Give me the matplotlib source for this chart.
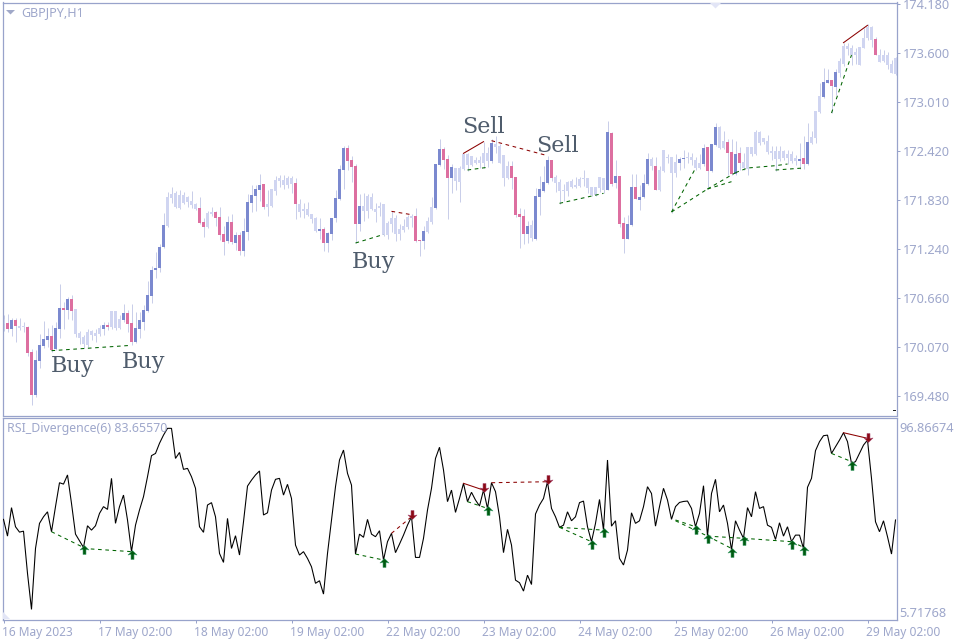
import numpy as np
import matplotlib
matplotlib.use("Agg")
import matplotlib.pyplot as plt
from matplotlib.path import Path
from matplotlib.patches import Polygon
from matplotlib.transforms import ScaledTranslation

symbol = "GBPJPY,H1"
indicator = "RSI_Divergence(6) 83.65570"

highs = [170.454,170.466,170.418,170.414,170.418,170.374,170.322,170.046,170.034,170.226,170.382,170.298,170.334,170.370,170.826,170.610,170.670,170.694,170.526,170.262,170.214,170.286,170.274,170.286,170.334,170.370,170.370,170.502,170.502,170.454,170.586,170.514,170.586,170.490,170.490,170.574,170.862,171.042,171.210,171.306,171.678,171.930,171.990,171.942,171.954,171.930,171.882,171.942,171.798,171.870,171.618,171.702,171.750,171.702,171.750,171.522,
 171.642,171.666,171.450,171.450,171.618,171.906,172.014,172.014,172.146,172.026,171.954,171.966,172.122,172.134,172.134,172.122,172.122,172.098,171.846,171.798,171.810,171.666,171.630,171.618,171.510,171.450,171.618,171.954,172.254,172.482,172.494,172.362,172.266,171.906,171.918,171.906,171.918,171.798,171.810,171.786,171.582,171.702,171.654,171.546,171.606,171.654,171.666,171.738,171.354,171.522,171.630,171.870,172.266,172.566,172.470,172.374,172.266,
 172.218,172.242,172.386,172.402,172.362,172.350,172.362,172.530,172.470,172.566,172.602,172.506,172.374,172.302,172.302,172.110,171.738,171.726,171.582,171.594,171.978,172.122,172.242,172.362,172.314,172.134,172.086,172.026,172.062,172.086,172.110,172.110,172.194,172.098,171.990,171.990,172.110,172.098,172.782,172.650,172.314,172.122,171.630,171.654,172.146,172.146,172.014,172.146,172.398,172.350,172.350,172.242,172.434,
 172.386,172.350,172.386,172.350,172.434,172.410,172.398,172.350,172.386,172.506,172.470,172.506,172.758,172.722,172.662,172.566,172.566,172.542,172.470,172.398,172.470,172.470,172.674,172.662,172.578,172.614,172.482,172.482,172.482,172.434,172.434,172.422,172.374,172.518,172.602,172.758,172.662,172.902,173.238,173.418,173.406,173.274,173.406,173.538,173.718,173.718,173.694,173.658,173.670,173.898,173.946,173.922,173.790,173.646,173.634,173.610,173.514,173.550]

body_top = [170.406,170.358,170.394,170.394,170.322,170.322,170.310,170.010,169.914,170.094,170.166,170.202,170.202,170.298,170.538,170.538,170.646,170.646,170.526,170.238,170.190,170.250,170.262,170.238,170.298,170.334,170.334,170.502,170.502,170.406,170.478,170.478,170.358,170.298,170.394,170.514,170.694,170.994,171.018,171.270,171.534,171.870,171.906,171.918,171.894,171.894,171.870,171.822,171.786,171.738,171.570,171.678,171.690,171.690,171.630,171.426,
 171.570,171.570,171.414,171.414,171.462,171.810,171.894,171.966,172.014,172.026,171.786,171.966,172.074,172.098,172.074,172.098,172.098,172.038,171.786,171.726,171.726,171.666,171.618,171.486,171.486,171.438,171.618,171.858,172.206,172.458,172.458,172.314,172.242,171.762,171.762,171.882,171.870,171.726,171.762,171.786,171.558,171.618,171.618,171.486,171.522,171.630,171.642,171.642,171.354,171.462,171.582,171.750,172.266,172.446,172.446,172.326,172.230,
 172.218,172.218,172.386,172.386,172.362,172.314,172.314,172.398,172.398,172.518,172.506,172.482,172.374,172.242,172.242,172.110,171.666,171.642,171.522,171.534,171.882,171.966,172.050,172.314,172.314,172.110,172.050,171.954,172.050,172.062,172.014,172.086,172.098,172.098,171.990,171.990,172.110,172.098,172.650,172.638,172.122,172.122,171.558,171.546,171.990,171.990,171.870,172.038,172.326,172.326,172.242,172.194,172.434,
 172.346,172.350,172.290,172.326,172.338,172.350,172.350,172.314,172.278,172.458,172.470,172.506,172.710,172.710,172.542,172.530,172.410,172.386,172.398,172.290,172.470,172.470,172.650,172.650,172.578,172.542,172.422,172.422,172.422,172.422,172.386,172.386,172.338,172.326,172.338,172.530,172.590,172.902,173.082,173.250,173.274,173.274,173.370,173.502,173.682,173.682,173.658,173.610,173.670,173.778,173.910,173.910,173.766,173.574,173.574,173.574,173.466,173.538]

body_bottom = [170.346,170.286,170.286,170.322,170.298,170.310,169.998,169.494,169.494,169.902,170.082,170.154,170.034,170.046,170.286,170.514,170.514,170.502,170.226,170.178,170.106,170.094,170.214,170.202,170.226,170.286,170.310,170.310,170.298,170.298,170.394,170.346,170.130,170.130,170.286,170.370,170.502,170.682,170.994,171.018,171.270,171.522,171.858,171.750,171.738,171.798,171.810,171.774,171.726,171.558,171.510,171.510,171.666,171.618,171.414,171.330,
 171.342,171.330,171.318,171.222,171.222,171.450,171.798,171.882,171.954,171.750,171.750,171.762,171.942,172.062,172.014,172.014,172.026,171.786,171.690,171.702,171.654,171.606,171.462,171.462,171.318,171.318,171.426,171.618,171.846,172.194,172.302,172.230,171.546,171.546,171.702,171.702,171.726,171.690,171.738,171.414,171.414,171.546,171.426,171.426,171.474,171.510,171.618,171.342,171.342,171.342,171.450,171.570,171.738,172.254,172.314,172.098,172.098,
 172.062,172.050,172.206,172.254,172.254,172.278,172.278,172.278,172.302,172.302,172.470,172.278,172.098,172.098,172.098,171.654,171.630,171.426,171.426,171.378,171.366,171.870,171.942,172.038,172.098,172.038,171.942,171.942,171.942,171.990,171.990,172.002,172.086,171.978,171.894,171.894,171.978,171.954,171.954,172.026,172.038,171.546,171.366,171.366,171.534,171.846,171.834,171.870,172.026,172.242,171.954,171.954,172.182,
 172.338,172.158,172.158,172.278,172.326,172.338,172.314,172.218,172.218,172.266,172.182,172.182,172.494,172.458,172.458,172.398,172.146,172.146,172.278,172.218,172.206,172.386,172.386,172.518,172.530,172.410,172.398,172.326,172.326,172.338,172.338,172.302,172.302,172.302,172.266,172.266,172.518,172.578,172.890,173.070,173.238,173.202,173.190,173.358,173.466,173.646,173.574,173.574,173.454,173.658,173.778,173.754,173.574,173.490,173.502,173.454,173.358,173.346]

lows = [170.266,170.250,170.206,170.134,170.274,170.250,169.962,169.374,169.474,169.818,170.058,170.074,170.014,170.034,170.178,170.286,170.406,170.394,170.190,170.106,170.058,170.074,170.154,170.130,170.202,170.214,170.274,170.286,170.274,170.286,170.374,170.250,170.094,170.114,170.174,170.274,170.490,170.598,170.898,170.970,171.258,171.510,171.798,171.738,171.726,171.786,171.750,171.738,171.714,171.546,171.390,171.498,171.642,171.522,171.354,171.174,
 171.318,171.306,171.234,171.174,171.162,171.354,171.690,171.702,171.822,171.726,171.642,171.750,171.894,171.990,171.966,171.978,171.918,171.606,171.630,171.618,171.642,171.558,171.450,171.366,171.222,171.210,171.354,171.570,171.834,171.966,172.194,172.050,171.318,171.462,171.582,171.618,171.714,171.570,171.642,171.402,171.366,171.450,171.342,171.354,171.450,171.486,171.510,171.330,171.162,171.246,171.438,171.546,171.726,172.242,172.206,171.606,171.918,
 171.954,171.810,172.194,172.182,172.242,172.266,172.218,172.218,172.230,172.278,172.394,172.278,172.002,172.086,171.966,171.630,171.258,171.306,171.318,171.342,171.354,171.654,171.930,172.026,172.062,171.930,171.786,171.822,171.882,171.978,171.978,171.990,172.002,171.918,171.882,171.882,171.930,171.918,171.954,172.002,171.978,171.510,171.198,171.366,171.522,171.846,171.714,171.858,172.014,172.194,171.954,171.942,172.170,
 172.274,171.678,172.110,172.194,172.214,172.274,172.254,172.194,172.206,172.242,171.966,172.170,172.482,172.446,172.446,172.134,172.134,172.134,172.194,172.194,172.134,172.362,172.374,172.494,172.506,172.386,172.314,172.182,172.302,172.314,172.266,172.278,172.254,172.206,172.206,172.254,172.506,172.518,172.878,173.058,173.238,172.878,173.094,173.310,173.442,173.574,173.454,173.466,173.454,173.658,173.754,173.670,173.574,173.490,173.490,173.406,173.358,173.334]

# b = bright rising, p = bright falling, f = faded
tones = ("fpbpffppbbbbpbbpbp" + "f"*7 + "bp" + "fff" + "bppbbbbbbbb" + "f"*8 + "pp" + "ff" + "ppp"
         + "bpbpbbbbbp" + "f"*7 + "p" + "f"*5 + "bpbbbbb" + "ppp" + "b" + "f"*13 + "ppb" + "ff" + "bb"
         + "pp" + "b" + "f"*9 + "b" + "ffff" + "pppp" + "b" + "f" + "bbbb" + "p" + "f"*13
         + "bpbppbbpbbb" + "f" + "p" + "f"*5 + "bb" + "ffff" + "bpbb" + "ff" + "ppbp" + "f"*14
         + "bpb" + "fff" + "bbpb" + "f"*9 + "p" + "f"*5)

rsi = [51.0,42.6,56.9,47.3,44.6,45.1,23.9,5.8,36.4,49.0,52.3,54.8,44.8,57.4,69.4,68.7,73.3,59.0,43.6,40.3,36.9,47.8,45.6,47.8,54.0,57.4,56.0,71.6,49.0,57.4,63.2,50.7,34.8,48.1,55.7,62.4,72.4,83.0,84.1,89.2,93.3,96.7,96.7,81.6,84.6,76.1,76.6,72.4,66.6,47.3,44.5,58.2,59.4,52.3,33.9,29.4,51.5,36.4,42.8,33.1,49.8,67.7,70.7,73.3,75.3,53.2,54.3,65.7,71.1,71.6,63.2,68.6,61.5,38.1,33.1,34.8,31.4,27.2,18.9,20.2,
 13.5,33.9,50.7,67.4,80.8,85.8,74.1,68.2,33.6,43.6,42.0,51.0,43.6,42.3,45.3,30.6,39.8,44.0,34.3,38.6,43.1,48.1,52.3,31.9,31.9,41.5,55.7,66.6,81.6,87.2,75.8,59.9,65.7,54.5,61.5,69.1,59.9,64.6,60.7,57.7,65.7,56.5,69.4,64.9,52.3,34.3,46.0,38.1,20.5,19.2,15.0,23.0,18.3,53.7,58.2,61.5,69.9,56.5,52.3,47.0,48.1,54.8,50.3,52.3,59.4,60.2,47.3,39.8,49.0,61.0,45.6,80.8,47.6,50.3,31.4,28.1,35.6,54.3,49.0,50.3,
 57.4,67.4,64.0,47.6,57.4,66.6,60.7,51.0,57.4,59.5,60.0,60.2,56.5,47.3,54.0,67.9,42.6,64.0,71.1,54.8,58.2,49.0,35.6,50.3,45.6,41.5,56.9,52.3,64.9,56.5,57.4,48.1,47.0,40.9,49.3,42.6,47.3,39.8,43.1,43.1,36.4,67.1,71.6,85.5,90.0,93.0,93.3,84.1,87.5,90.8,94.5,90.0,79.1,80.0,84.1,88.3,90.8,71.6,49.8,44.8,50.3,42.3,33.6,50.7]

price_ticks = [174.180,173.600,173.010,172.420,171.830,171.240,170.660,170.070,169.480]
rsi_ticks = [96.86674,5.71768]
date_bars = [0,24,48,72,96,120,144,168,192,216]
date_labels = ["16 May 2023","17 May 02:00","18 May 02:00","19 May 02:00","22 May 02:00",
               "23 May 02:00","24 May 02:00","25 May 02:00","26 May 02:00","29 May 02:00"]

# trend lines on the price panel
price_green = [([12,32],[170.026,170.090]), ([88,95],[171.318,171.420]), ([116,121],[172.194,172.226]),
               ([139,150],[171.794,171.914]), ([167,173],[171.690,172.214]), ([167,176],[171.690,171.966]),
               ([176,182],[171.966,172.054]), ([176,183],[171.966,172.162]),
               ([183,186,193,196],[172.162,172.218,172.246,172.266]), ([193,200],[172.194,172.218]),
               ([207,212],[172.878,173.574])]
price_red = [([97,102],[171.698,171.658]), ([122,136],[172.546,172.366])]
price_red_solid = [([115,120],[172.394,172.534]), ([210,216],[173.722,173.930])]

# trend lines on the indicator panel
rsi_green = [([12,20],[44.8,36.9]), ([20,32],[36.4,34.8]), ([88,95],[33.6,30.6]), ([116,121],[59.9,56.5]),
             ([139,147],[47.0,39.8]), ([139,150],[47.0,45.6]), ([168,173],[50.7,47.3]), ([168,176],[50.3,42.6]),
             ([176,182],[42.6,36.4]), ([176,185,197],[42.6,41.5,39.8]), ([197,200],[39.8,37.0]),
             ([207,212],[84.1,80.0])]
rsi_red = [([97,102],[44.0,52.3]), ([122,136],[69.4,69.9])]
rsi_red_solid = [([115,120],[69.1,65.7]), ([210,216],[94.5,91.7])]
up_signals = [20,32,95,121,147,150,173,176,182,185,197,200,212]
down_signals = [102,120,136,216]

words = ["Buy","Buy","Buy","Sell","Sell"]

n = len(highs)
assert n == len(body_top) == len(body_bottom) == len(lows) == len(tones) == len(rsi), (
    n, len(body_top), len(body_bottom), len(lows), len(tones), len(rsi))

W, H = 960, 640
FRAME = "#98a3cb"
TEXT = "#9ea7cb"
BLUE = "#7b89cf"
PINK = "#dd6fa0"
FADED = "#d0d5f1"
WICK = "#c9cee9"
GREEN = "#006400"
RED = "#8b0000"
plt.rcParams["font.family"] = ["Noto Sans", "DejaVu Sans"]

fig = plt.figure(figsize=(9.6, 6.4), dpi=100, facecolor="white")

def box(l, t, r, b):
    return [l/W, 1-b/H, (r-l)/W, (b-t)/H]

ax = fig.add_axes(box(2.5, 2.5, 896.5, 415.5))
ax2 = fig.add_axes(box(2.5, 417.5, 896.5, 619.5))

x = np.arange(n)
palette = {"b": BLUE, "p": PINK, "f": FADED}
ax.vlines(x, lows, highs, colors=WICK, linewidth=0.72, zorder=1)
ax.bar(x, np.array(body_top)-np.array(body_bottom), bottom=body_bottom, width=0.75,
       color=[palette[t] for t in tones], linewidth=0, zorder=2)

def lines(axis, group, colour, style):
    for xs, ys in group:
        axis.plot(xs, ys, color=colour, lw=0.75, ls=style, zorder=3)

DASH = (0, (3.5, 3.5))
lines(ax, price_green, GREEN, DASH)
lines(ax, price_red, RED, DASH)
lines(ax, price_red_solid, RED, "-")

ax.plot([222.3, 222.8], [169.314, 169.314], color="#222222", lw=0.72)

ax2.plot(x, rsi, color="black", lw=0.78, zorder=3, solid_joinstyle="miter")
lines(ax2, rsi_green, GREEN, DASH)
lines(ax2, rsi_red, RED, DASH)
lines(ax2, rsi_red_solid, RED, "-")

up_path = Path([(0,2),(-4.5,-2.5),(-1.5,-2),(-1.5,-7),(1.5,-7),(1.5,-2),(4.5,-2.5),(0,2)], closed=True)
down_path = Path([(0,-2),(-4.5,2.5),(-1.5,2),(-1.5,7),(1.5,7),(1.5,2),(4.5,2.5),(0,-2)], closed=True)
rsi_arr = np.array(rsi)
ax2.plot(up_signals, rsi_arr[up_signals], ls="none", marker=up_path, ms=10, mfc="#005a10",
         mec="#3f9f6a", mew=0.4, zorder=5)
ax2.plot(down_signals, rsi_arr[down_signals], ls="none", marker=down_path, ms=10, mfc="#8b0a14",
         mec="#a84a70", mew=0.4, zorder=5)

ax.set_xlim(-0.25, 223.25)
ax2.set_xlim(-0.25, 223.25)
ax.set_ylim(169.248, 174.204)
ax2.set_ylim(0.74, 102.14)

for a in (ax, ax2):
    for s in a.spines.values():
        s.set_color(FRAME)
        s.set_linewidth(0.9)
    a.yaxis.tick_right()

ax.set_xticks([])
ax.set_yticks(price_ticks)
ax.set_yticklabels([f"{v:.3f}" for v in price_ticks])
ax.tick_params(axis="y", length=2.5, width=0.72, color=FRAME, labelcolor=TEXT, labelsize=9.2, pad=2.2)

ax2.set_yticks(rsi_ticks)
ax2.set_yticklabels([f"{v:.5f}" for v in rsi_ticks])
ax2.tick_params(axis="y", length=0, labelcolor=TEXT, labelsize=9.2, pad=1.8)
ax2.set_xticks(date_bars)
ax2.set_xticklabels(date_labels, ha="left")
ax2.tick_params(axis="x", length=2.5, width=0.72, color=FRAME, labelcolor=TEXT, labelsize=8.6, pad=2.5)

def nudge(label, dx_px, dy_px):
    label.set_transform(label.get_transform() + ScaledTranslation(dx_px/100, dy_px/100, fig.dpi_scale_trans))

rsi_labels = ax2.get_yticklabels()
nudge(rsi_labels[0], 0, 1.3)
nudge(rsi_labels[1], 0, -2)
for lab in ax2.get_xticklabels():
    nudge(lab, -1, 0)

def px_text(px, py, s, **kw):
    fig.text(px/W, 1-py/H, s, **kw)

px_text(21, 12.7, symbol, color=TEXT, fontsize=9, va="center", ha="left")
px_text(7, 428.7, indicator, color=TEXT, fontsize=8.9, va="center", ha="left")

word_spots = [(51,371.7),(122,368),(351.5,268),(462,133),(536.5,151.7)]
for (px, py), w in zip(word_spots, words):
    px_text(px, py, w, color="#4f5c6c", fontsize=16, family="DejaVu Serif", va="baseline", ha="left")

def tri(pts, colour):
    fig.add_artist(Polygon([(p/W, 1-q/H) for p, q in pts], closed=True, transform=fig.transFigure,
                           facecolor=colour, edgecolor="none", zorder=6))

tri([(6,10),(15,10),(10.5,14.5)], "#a0a8c8")
tri([(710,3),(721,3),(715.5,8.5)], "#e2e5f6")
tri([(3,612),(3,619),(10,619)], "#e2e5f6")

fig.savefig("out.png", dpi=100)
